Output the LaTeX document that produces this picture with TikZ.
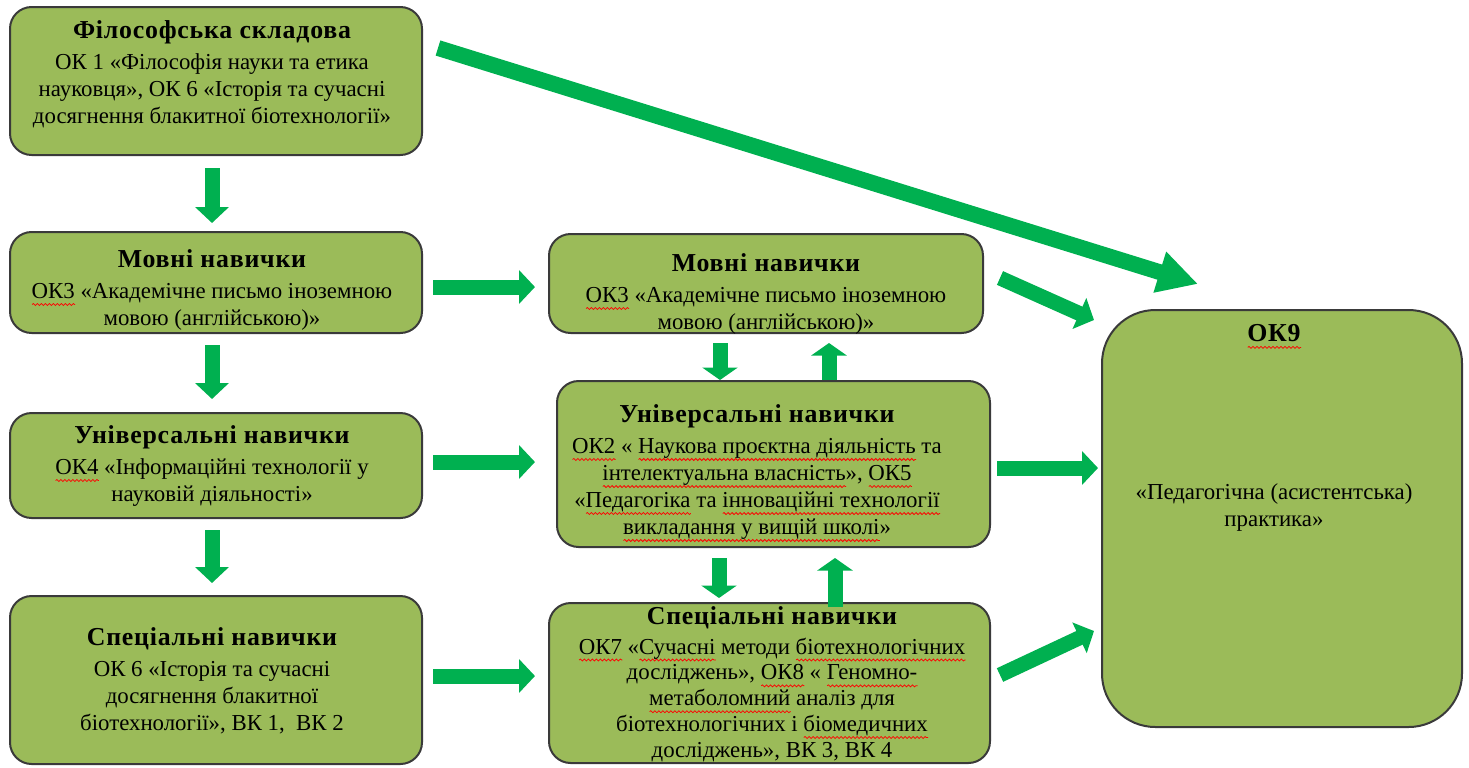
\documentclass[tikz,border=0pt]{standalone}
\usepackage{fontspec}
\setmainfont{Liberation Serif}
\newfontfamily\ttlfont[LetterSpace=3]{Liberation Serif}
\usetikzlibrary{arrows.meta,decorations.pathmorphing}
\definecolor{boxfill}{HTML}{9BBB59}
\definecolor{boxline}{HTML}{3A3A3A}
\definecolor{arrgreen}{HTML}{00B050}
\newcommand{\wv}[1]{\setbox0\hbox{#1}\leavevmode\rlap{\smash{\tikz[baseline=0pt,x=1pt,y=1pt,transform shape=false]\draw[red,line width=0.45pt,decorate,decoration={snake,amplitude=0.6pt,segment length=2.4pt}] (0,-3.6) -- (\the\wd0,-3.6);}}\box0\relax}
\tikzset{
  box/.style={draw=boxline, line width=1.2pt, fill=boxfill, rounded corners=13pt},
  txt/.style={align=center, font=\fontsize{13.7}{16.2}\selectfont, inner sep=0pt},
  txttight/.style={txt, font=\fontsize{13.7}{15.5}\selectfont},
  blk/.style={draw=arrgreen, line width=9pt, -{Triangle[length=9.6pt,width=19.8pt]}},
  blkv/.style={draw=arrgreen, line width=9pt, -{Triangle[length=7.5pt,width=21pt]}},
  blkbig/.style={draw=arrgreen, line width=9.5pt, -{Triangle[length=24pt,width=24pt]}}
}
\newcommand{\ttlline}[1]{{\fontsize{15.5}{17}\selectfont\ttlfont\bfseries #1}}
\begin{document}
\begin{tikzpicture}[x=0.6pt,y=-0.6pt]
\useasboundingbox (0,0) rectangle (1469,767);
% boxes
\draw[box] (10,7) rectangle (422,155) node[pos=0,inner sep=0pt] (A) {};
\draw[box] (10,232) rectangle (422,333) node[pos=0,inner sep=0pt] (B1) {};
\draw[box] (10,413) rectangle (422,518) node[pos=0,inner sep=0pt] (C1) {};
\draw[box] (10,596) rectangle (422,764) node[pos=0,inner sep=0pt] (D1) {};
\draw[box] (549,234) rectangle (983,333) node[pos=0,inner sep=0pt] (B2) {};
\draw[box] (557,381) rectangle (990,547) node[pos=0,inner sep=0pt] (C2) {};
\draw[box] (549,603) rectangle (990,763) node[pos=0,inner sep=0pt] (D2) {};
\draw[box, rounded corners=32pt] (1102,310) rectangle (1462,727) node[pos=0,inner sep=0pt] (E) {};
% texts
\node[txt] (At) at (212,74) {\ttlline{Філософська складова}\\[2.4pt]
ОК 1 «Філософія науки та етика\\науковця», ОК 6 «Історія та сучасні\\досягнення блакитної біотехнології»};
\node[txt] (B1t) at (212,290) {\ttlline{Мовні навички}\\[2.4pt]
\wv{ОК3} «Академічне письмо іноземною\\мовою (англійською)»};
\node[txt] (C1t) at (212,466) {\ttlline{Універсальні навички}\\[2.4pt]
\wv{ОК4} «Інформаційні технології у\\науковій діяльності»};
\node[txt] (D1t) at (212,681) {\ttlline{Спеціальні навички}\\[2.4pt]
ОК 6 «Історія та сучасні\\досягнення блакитної\\біотехнології», ВК 1,~ ВК 2};
\node[txt] (B2t) at (766,294) {\ttlline{Мовні навички}\\[2.4pt]
\wv{ОК3} «Академічне письмо іноземною\\мовою (англійською)»};
\node[txt] (C2t) at (757,472) {\ttlline{Універсальні навички}\\[2.4pt]
\wv{ОК2} « \wv{Наукова проєктна діяльність} та\\\wv{інтелектуальна власність}», \wv{ОК5}\\«\wv{Педагогіка} та \wv{інноваційні технології}\\\wv{викладання у вищій школі}»};
\node[txttight] (D2t) at (772,684) {\ttlline{Спеціальні навички}\\[2.4pt]
\wv{ОК7} «\wv{Сучасні} методи \wv{біотехнологічних}\\досліджень», \wv{ОК8} « \wv{Геномно-}\\\wv{метаболомний} аналіз для\\біотехнологічних і \wv{біомедичних}\\досліджень», ВК 3, ВК 4};
\node[txt] (Et) at (1274,333) {\ttlline{\wv{ОК9}}};
\node[txt] (Eb) at (1274,507) {«Педагогічна (асистентська)\\практика»};
% arrow end points
\coordinate (a1s) at (212,168); \coordinate (a1e) at (212,223);
\coordinate (a2s) at (212,345); \coordinate (a2e) at (212,399);
\coordinate (a3s) at (212,530); \coordinate (a3e) at (212,583);
\coordinate (h1s) at (433,287); \coordinate (h1e) at (535,287);
\coordinate (h2s) at (433,462); \coordinate (h2e) at (535,462);
\coordinate (h3s) at (433,676); \coordinate (h3e) at (535,676);
\coordinate (v1s) at (720,343); \coordinate (v1e) at (720,380);
\coordinate (v2s) at (829,380); \coordinate (v2e) at (829,343);
\coordinate (v3s) at (719,558); \coordinate (v3e) at (719,598);
\coordinate (v4s) at (835,607); \coordinate (v4e) at (835,558);
\coordinate (e1s) at (997,468); \coordinate (e1e) at (1098,468);
\coordinate (e2s) at (1000,278); \coordinate (e2e) at (1094,320);
\coordinate (e3s) at (1000,675); \coordinate (e3e) at (1094,631);
\coordinate (e4s) at (438,48); \coordinate (e4e) at (1198,284);
\draw[blk] (a1s) -- (a1e);
\draw[blk] (a2s) -- (a2e);
\draw[blk] (a3s) -- (a3e);
\draw[blk] (h1s) -- (h1e);
\draw[blk] (h2s) -- (h2e);
\draw[blk] (h3s) -- (h3e);
\draw[blkv] (v1s) -- (v1e);
\draw[blkv] (v2s) -- (v2e);
\draw[blkv] (v3s) -- (v3e);
\draw[blkv] (v4s) -- (v4e);
\draw[blk] (e1s) -- (e1e);
\draw[blk] (e2s) -- (e2e);
\draw[blk] (e3s) -- (e3e);
\draw[blkbig] (e4s) -- (e4e);
\end{tikzpicture}
\end{document}
